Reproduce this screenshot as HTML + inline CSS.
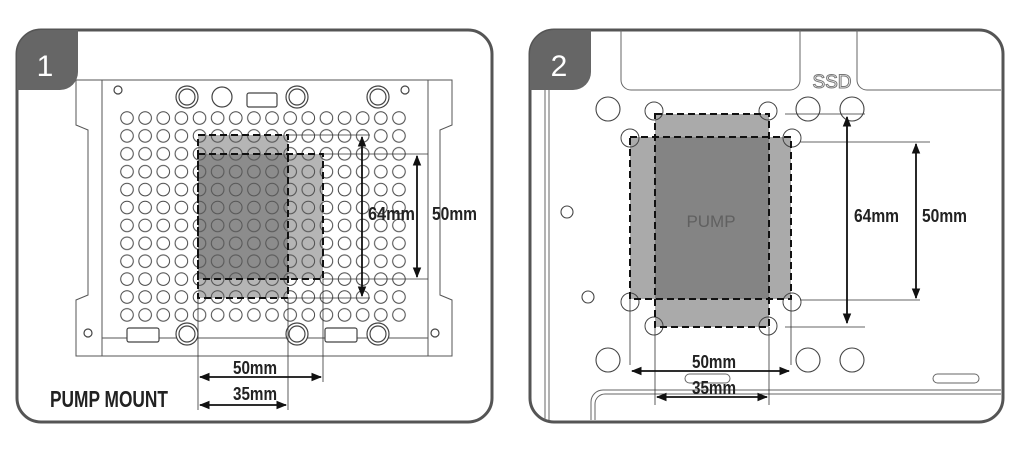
<!DOCTYPE html>
<html><head><meta charset="utf-8"><style>
html,body{margin:0;padding:0;background:#fff;width:1024px;height:450px;overflow:hidden}
.d{font-family:"Liberation Sans",sans-serif;font-weight:bold;fill:#222}
</style></head><body>
<svg width="1024" height="450" viewBox="0 0 1024 450" xmlns="http://www.w3.org/2000/svg">
<defs>
<pattern id="holes" x="118" y="109" width="18.13" height="17.9" patternUnits="userSpaceOnUse">
<circle cx="9" cy="9" r="6.3" fill="#fff" stroke="#444" stroke-width="1"/>
</pattern>
<marker id="ar" viewBox="0 0 10 10" refX="9" refY="5" markerWidth="6" markerHeight="6" orient="auto-start-reverse"><path d="M0,1 L10,5 L0,9 z" fill="#111"/></marker>
</defs>
<!-- Panel 1 -->
<rect x="17" y="30" width="475" height="392" rx="24" fill="#fff" stroke="#555" stroke-width="3"/>
<g fill="none" stroke="#555" stroke-width="1">
<path d="M76,80 H452 V125 L440,130 V295 L452,300 V356 H76 V300 L88,295 V130 L76,125 Z"/>
<rect x="102" y="80" width="326" height="258"/>
<line x1="102" y1="338" x2="102" y2="356"/><line x1="428" y1="338" x2="428" y2="356"/>
</g>
<rect x="117" y="108" width="290" height="216" fill="url(#holes)"/>
<g fill="#fff" stroke="#444" stroke-width="1.2">
<circle cx="187" cy="97" r="11"/><circle cx="187" cy="97" r="8"/>
<circle cx="222" cy="97" r="10"/>
<circle cx="297" cy="97" r="11"/><circle cx="297" cy="97" r="8"/>
<circle cx="378" cy="97" r="11"/><circle cx="378" cy="97" r="8"/>
<rect x="247" y="93" width="30" height="14" rx="2"/>
<circle cx="118" cy="90" r="4"/><circle cx="405" cy="90" r="4"/>
<circle cx="88" cy="333" r="4"/><circle cx="435" cy="333" r="4"/>
<circle cx="187" cy="334" r="11"/><circle cx="187" cy="334" r="8"/>
<circle cx="297" cy="334" r="11"/><circle cx="297" cy="334" r="8"/>
<circle cx="378" cy="334" r="11"/><circle cx="378" cy="334" r="8"/>
<rect x="127" y="328" width="32" height="14" rx="2"/>
<rect x="325" y="328" width="32" height="14" rx="2"/>
</g>
<rect x="198" y="135" width="90" height="163" fill="rgba(90,90,90,0.45)"/>
<rect x="198" y="154" width="125" height="125" fill="rgba(90,90,90,0.45)"/>
<g fill="none" stroke="#111" stroke-width="2" stroke-dasharray="7,4">
<rect x="198" y="135" width="90" height="163"/>
<rect x="198" y="154" width="125" height="125"/>
</g>
<g stroke="#333" stroke-width="0.8">
<line x1="288" y1="135" x2="370" y2="135"/><line x1="288" y1="298" x2="370" y2="298"/>
<line x1="323" y1="154" x2="428" y2="154"/><line x1="323" y1="279" x2="428" y2="279"/>
<line x1="198" y1="298" x2="198" y2="410"/><line x1="288" y1="298" x2="288" y2="410"/><line x1="323" y1="279" x2="323" y2="382"/>
</g>
<g stroke="#111" stroke-width="1.8" marker-start="url(#ar)" marker-end="url(#ar)">
<line x1="362" y1="137" x2="362" y2="296"/>
<line x1="417" y1="156" x2="417" y2="277"/>
<line x1="200" y1="377" x2="321" y2="377"/>
<line x1="200" y1="405" x2="286" y2="405"/>
</g>
<text class="d" x="368" y="220" font-size="18" textLength="47" lengthAdjust="spacingAndGlyphs">64mm</text>
<text class="d" x="432" y="220" font-size="18" textLength="45" lengthAdjust="spacingAndGlyphs">50mm</text>
<text class="d" x="233" y="374" font-size="18" textLength="44" lengthAdjust="spacingAndGlyphs">50mm</text>
<text class="d" x="233" y="400" font-size="18" textLength="44" lengthAdjust="spacingAndGlyphs">35mm</text>
<text class="d" x="50" y="407" font-size="23" textLength="118" lengthAdjust="spacingAndGlyphs">PUMP MOUNT</text>
<path d="M17,54 A24,24 0 0 1 41,30 H78 V72 A18,18 0 0 1 60,90 H17 Z" fill="#666"/>
<text x="45" y="76" font-family="Liberation Sans,sans-serif" font-size="30" fill="#fff" text-anchor="middle">1</text>

<!-- Panel 2 -->
<rect x="530" y="30" width="473" height="392" rx="24" fill="#fff" stroke="#555" stroke-width="3"/>
<g fill="none" stroke="#666" stroke-width="1">
<path d="M621,30 V80 A10,10 0 0 0 631,90 H790 A10,10 0 0 0 800,80 V30"/>
<path d="M857,30 V80 A10,10 0 0 0 867,90 H1001"/>
<line x1="545" y1="90" x2="545" y2="420"/><line x1="549" y1="90" x2="549" y2="420"/>
<path d="M591,420 V402 A12,12 0 0 1 603,390 H1001"/>
<path d="M595,420 V404 A10,10 0 0 1 605,394 H1001"/>
<rect x="933" y="374" width="46" height="9" rx="4.5"/>
<rect x="685" y="374" width="45" height="9" rx="4.5"/>
</g>
<text x="832" y="88" font-family="Liberation Sans,sans-serif" font-size="19" fill="#fff" stroke="#777" stroke-width="1" text-anchor="middle">SSD</text>
<g fill="#fff" stroke="#444" stroke-width="1.1">
<circle cx="608" cy="109" r="12"/><circle cx="808" cy="109" r="12"/><circle cx="852" cy="109" r="12"/>
<circle cx="608" cy="360" r="12"/><circle cx="808" cy="360" r="12"/><circle cx="852" cy="360" r="12"/>
<circle cx="567" cy="212" r="6"/><circle cx="588" cy="297" r="6"/>
</g>
<rect x="655" y="114" width="114" height="213" fill="rgba(100,100,100,0.55)"/>
<rect x="630" y="137" width="161" height="162" fill="rgba(100,100,100,0.55)"/>
<g fill="none" stroke="#444" stroke-width="1">
<circle cx="654" cy="111" r="9"/><circle cx="768" cy="111" r="9"/>
<circle cx="630" cy="138" r="9"/><circle cx="792" cy="138" r="9"/>
<circle cx="630" cy="302" r="9"/><circle cx="792" cy="302" r="9"/>
<circle cx="654" cy="326" r="9"/><circle cx="768" cy="326" r="9"/>
</g>
<g fill="none" stroke="#111" stroke-width="2" stroke-dasharray="7,4">
<rect x="655" y="114" width="114" height="213"/>
<rect x="630" y="137" width="161" height="162"/>
</g>
<text x="711" y="227" font-family="Liberation Sans,sans-serif" font-size="17" fill="#606060" text-anchor="middle">PUMP</text>
<g stroke="#333" stroke-width="0.8">
<line x1="785" y1="114" x2="865" y2="114"/><line x1="785" y1="327" x2="865" y2="327"/>
<line x1="800" y1="142" x2="930" y2="142"/><line x1="800" y1="300" x2="920" y2="300"/>
<line x1="630" y1="299" x2="630" y2="365"/><line x1="791" y1="299" x2="791" y2="365"/>
<line x1="655" y1="327" x2="655" y2="405"/><line x1="769" y1="327" x2="769" y2="405"/>
</g>
<g stroke="#111" stroke-width="1.8" marker-start="url(#ar)" marker-end="url(#ar)">
<line x1="847" y1="117" x2="847" y2="323"/>
<line x1="916" y1="144" x2="916" y2="298"/>
<line x1="632" y1="371" x2="789" y2="371"/>
<line x1="657" y1="397" x2="767" y2="397"/>
</g>
<text class="d" x="854" y="222" font-size="18" textLength="45" lengthAdjust="spacingAndGlyphs">64mm</text>
<text class="d" x="922" y="222" font-size="18" textLength="45" lengthAdjust="spacingAndGlyphs">50mm</text>
<text class="d" x="692" y="368" font-size="18" textLength="44" lengthAdjust="spacingAndGlyphs">50mm</text>
<text class="d" x="692" y="394" font-size="18" textLength="44" lengthAdjust="spacingAndGlyphs">35mm</text>
<path d="M530,54 A24,24 0 0 1 554,30 H591 V72 A18,18 0 0 1 573,90 H530 Z" fill="#666"/>
<text x="559" y="76" font-family="Liberation Sans,sans-serif" font-size="30" fill="#fff" text-anchor="middle">2</text>
</svg>
</body></html>
